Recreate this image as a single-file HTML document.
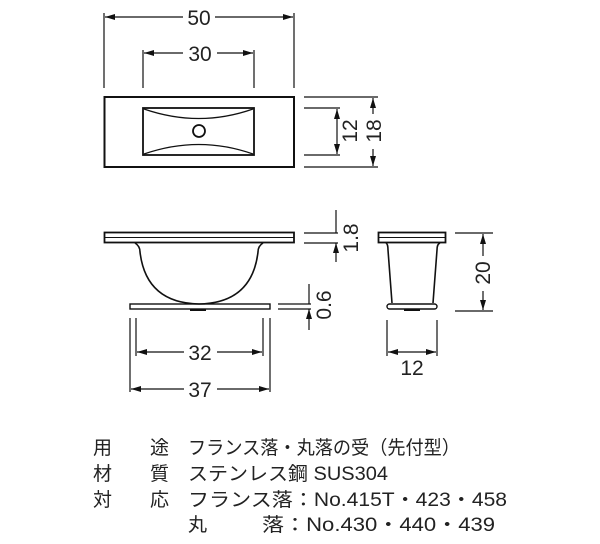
<!DOCTYPE html>
<html><head><meta charset="utf-8"><style>
html,body{margin:0;padding:0;background:#fff;}
svg{display:block;}
text{font-family:"Liberation Sans","Noto Sans CJK JP",sans-serif;fill:#222;}
</style></head><body>
<svg width="600" height="544" viewBox="0 0 600 544" xmlns="http://www.w3.org/2000/svg">
<defs>
<marker id="a" viewBox="0 0 10 6" refX="10" refY="3" markerWidth="10" markerHeight="6" orient="auto-start-reverse" markerUnits="userSpaceOnUse"><path d="M0,0 L10,3 L0,6 z" fill="#111"/></marker>
</defs>
<g stroke="#111" fill="none" stroke-width="1.2">
<rect x="104.5" y="97" width="189.5" height="70" stroke-width="2"/>
<rect x="143" y="108" width="111" height="47" stroke-width="1.8"/>
<path d="M144,109 Q199,128 253,109 M144,154 Q199,135 253,154" stroke-width="1.3"/>
<circle cx="199" cy="131" r="6" stroke-width="1.8"/>
<path d="M104,13 V88 M294,13 V88 M143,50 V88 M254,50 V88"/>
<path d="M105,17 H183 M215,17 H293" marker-start="url(#a)" marker-end="url(#a)"/>
<path d="M144,53 H183 M217,53 H253" marker-start="url(#a)" marker-end="url(#a)"/>
<path d="M304,97 H378 M304,167 H378 M304,108 H340 M304,155 H340"/>
<path d="M337,109 V154" marker-start="url(#a)" marker-end="url(#a)"/>
<path d="M373,98 V114 M373,149 V166" marker-start="url(#a)" marker-end="url(#a)"/>
<rect x="104.5" y="232.5" width="189.5" height="10" stroke-width="1.8"/>
<line x1="105" y1="237.5" x2="294" y2="237.5" stroke-width="1"/>
<path d="M135,243 Q140,246 140,252 Q146,303 199,304 Q252,303 258,252 Q258,246 263,243" stroke-width="1.6"/>
<rect x="130" y="304" width="140" height="5" stroke-width="1.4"/>
<rect x="190" y="309" width="16" height="2" fill="#111" stroke="none"/>
<path d="M304,233 H338 M304,243 H338"/>
<path d="M336,210 V233 M336,262 V243" marker-end="url(#a)"/>
<path d="M278,304 H311 M278,309 H311"/>
<path d="M309,284 V304 M309,330 V309" marker-end="url(#a)"/>
<path d="M130,318 V392 M270,318 V392 M136,318 V356 M263,318 V356"/>
<path d="M137,352 H184 M217,352 H262" marker-start="url(#a)" marker-end="url(#a)"/>
<path d="M131,389 H184 M217,389 H269" marker-start="url(#a)" marker-end="url(#a)"/>
<rect x="378.5" y="232.5" width="67" height="10" stroke-width="1.8"/>
<line x1="379" y1="237.5" x2="445" y2="237.5" stroke-width="1"/>
<path d="M386,243 Q388,244 388,250 L392,303 M440,243 Q437,244 437,250 L433,303" stroke-width="1.6"/>
<rect x="387" y="304" width="50" height="5" rx="2.5" stroke-width="1.4"/>
<rect x="404" y="309" width="16" height="2" fill="#111" stroke="none"/>
<path d="M455,233 H493 M455,311 H493"/>
<path d="M483,234 V256 M483,291 V310" marker-start="url(#a)" marker-end="url(#a)"/>
<path d="M387,320 V356 M437,320 V356"/>
<path d="M388,352 H436" marker-start="url(#a)" marker-end="url(#a)"/>
</g>
<g font-size="21" text-anchor="middle">
<text x="199" y="25">50</text>
<text x="200" y="61">30</text>
<text x="200" y="360">32</text>
<text x="200" y="397">37</text>
<text x="412" y="375">12</text>
<text transform="translate(357,131) rotate(-90)">12</text>
<text transform="translate(381,131) rotate(-90)">18</text>
<text transform="translate(358,238) rotate(-90)">1.8</text>
<text transform="translate(331,305) rotate(-90)">0.6</text>
<text transform="translate(490,273) rotate(-90)">20</text>
</g>
<g font-size="19">
<text x="93" y="454">用</text><text x="150" y="454">途</text>
<text x="188" y="454" textLength="272" lengthAdjust="spacingAndGlyphs">フランス落・丸落の受（先付型）</text>
<text x="93" y="480">材</text><text x="150" y="480">質</text>
<text x="188" y="480" textLength="200" lengthAdjust="spacingAndGlyphs">ステンレス鋼 SUS304</text>
<text x="93" y="506">対</text><text x="150" y="506">応</text>
<text x="188" y="506" textLength="319" lengthAdjust="spacingAndGlyphs">フランス落：No.415T・423・458</text>
<text x="188" y="531">丸</text>
<text x="262" y="531" textLength="233" lengthAdjust="spacingAndGlyphs">落：No.430・440・439</text>
</g>
</svg>
</body></html>
